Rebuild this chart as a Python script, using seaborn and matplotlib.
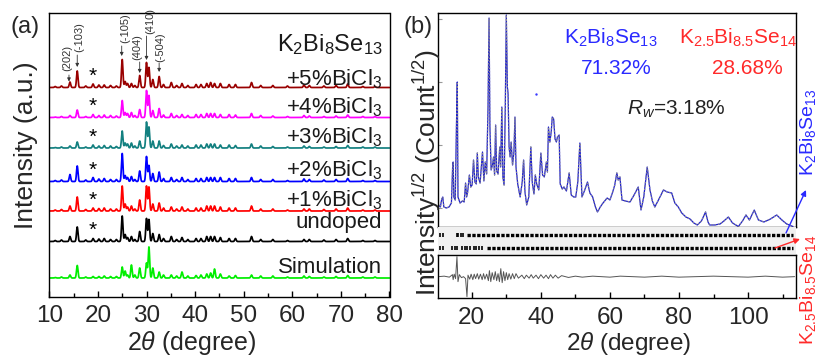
import numpy as np
import pandas as pd
import matplotlib
matplotlib.use("Agg")
import matplotlib.pyplot as plt
from matplotlib.ticker import MultipleLocator, FixedLocator, NullFormatter
import seaborn as sns

# ------------------------------------------------------------------
# Panel (a): XRD patterns (peak positions in 2theta, heights in a.u.)
# ------------------------------------------------------------------
peak_pos = [11.2, 12.5, 14.25, 15.75, 17.5, 19.0, 20.2, 21.3, 22.6, 23.8, 25.0, 25.6,
            26.1, 26.9, 27.6, 28.6, 30.0, 30.5, 31.3, 32.6, 33.5, 35.1, 36.2, 37.3,
            38.5, 40.2, 41.2, 42.4, 43.2, 44.0, 45.2, 47.0, 48.3, 51.6, 53.5, 56.0,
            59.0, 62.4, 63.5, 66.5, 69.0, 71.4, 74.5, 77.0]
h_5pct = [1, 1.5, 5.5, 16.5, 1.5, 3.5, 2.5, 2.5, 2, 1.5, 28, 6, 4, 4, 2, 12, 25, 20, 8, 11,
          3, 5, 2, 4, 2, 3, 3, 4, 5, 4, 4, 3, 3, 5, 2, 2, 1.5, 2.5, 2, 1.5, 2, 3.5, 1, 1]
h_4pct = [0.5, 1, 2, 7.5, 1, 3, 2, 2.5, 2, 1.5, 17, 5, 4, 5, 2, 8, 27, 22, 7, 9,
          2.5, 4, 2, 3, 2, 3, 3, 4, 4, 4, 3, 3, 2.5, 4, 2, 1.5, 1, 2, 1.5, 1, 1.5, 2.5, 1, 1]
h_3pct = [0.5, 1, 2, 6, 1, 3, 2, 2.5, 2, 1.5, 17, 5, 4, 5, 2, 7, 26, 21, 7, 7,
          2.5, 4, 2, 3, 2, 3, 3, 4, 4, 4, 3, 3, 2.5, 4, 2, 1.5, 1, 2, 1.5, 1, 1.5, 2.5, 1, 1]
h_2pct = [1, 1.5, 7, 15.5, 1.5, 4, 2.5, 3, 2, 2, 28, 6, 4, 5, 2, 10.5, 25, 16, 8, 9.5,
          3, 4, 2, 4, 2, 3, 3, 4, 4, 4, 4, 3, 3, 4, 2, 2, 1, 2.5, 2, 1.5, 2, 3, 1, 1]
h_1pct = [1, 1.5, 5, 14, 1.5, 3, 2.5, 3, 2, 2, 25, 7, 4, 5, 2, 11, 25, 24, 7, 8,
          3, 4, 2, 4, 2, 3, 3, 5, 5, 5, 4, 3, 3, 5, 2, 2, 1, 2, 2, 1.5, 2, 3, 1, 1]
h_undoped = [1, 1.5, 5, 14.5, 1.5, 3, 2.5, 3, 2, 2, 25.5, 7, 4, 5, 2, 10, 23, 22, 8, 7,
             3, 5, 2, 4, 2, 3, 3, 5, 5, 5, 4, 3, 3, 5, 2, 2, 1, 2, 2, 1.5, 2, 3, 1, 1]
h_sim = [0.5, 1, 3, 12.5, 1, 1.5, 1.5, 2, 1.5, 1.5, 11, 7, 3, 13, 3, 10, 15, 31, 10, 6,
         3, 3, 2, 6, 2, 2.5, 3, 4, 5, 9, 4, 2, 2.5, 3, 2, 2, 1, 2, 1.5, 1, 1.5, 2.5, 1, 1]

sample_labels = ["+5%BiCl$_3$", "+4%BiCl$_3$", "+3%BiCl$_3$", "+2%BiCl$_3$",
                 "+1%BiCl$_3$", "undoped", "Simulation"]
sample_heights = [h_5pct, h_4pct, h_3pct, h_2pct, h_1pct, h_undoped, h_sim]
sample_offsets = [209.5, 179.5, 149, 115.5, 86, 55.5, 19]
sample_colors = ["#990000", "#ff00ff", "#138080", "#0000ff", "#ff0000", "#000000", "#00ee00"]
label_y = [212, 183.5, 153.5, 120.5, 90.5, 69, 23.7]

hkl_labels = ["(202)", "(-103)", "(-105)", "(404)", "(410)", "(-504)"]
hkl_text_xy = [(13.7, 239), (16.1, 259.5), (25.55, 269), (28.0, 250), (30.8, 275.5), (32.9, 249.5)]
hkl_arrow_x = [14.05, 15.75, 24.9, 28.6, 30.0, 32.6]
hkl_arrow_tail = [222, 242, 251, 235, 261, 234]
hkl_arrow_head = [215.5, 230, 241, 224, 237, 225]

# ------------------------------------------------------------------
# Panel (b): Rietveld refinement (2theta, sqrt intensity in a.u.)
# ------------------------------------------------------------------
obs_tt = [10.4, 10.9, 11.3, 11.6, 11.9, 12.6, 13.4, 14.1, 14.45, 14.6, 14.8, 15.2, 15.55, 15.8,
          16.0, 16.6, 17.3, 17.8, 18.2, 18.5, 18.8, 19.3, 19.7, 20.1, 20.5, 20.9, 21.3, 21.6,
          21.9, 22.4, 23.1, 23.5, 23.9, 24.3, 24.7, 25.0, 25.25, 25.6, 26.0, 26.3, 26.6, 26.9,
          27.2, 27.6, 28.1, 28.35, 28.7, 29.0, 29.35, 29.7, 30.0, 30.3, 30.5, 30.8, 31.1, 31.4,
          31.8, 32.2, 32.5, 32.8, 33.3, 34.0, 34.6, 35.0, 35.4, 35.9, 36.5, 37.1, 37.5, 38.0,
          38.4, 38.8, 39.4, 40.0, 40.5, 41.0, 41.6, 41.9, 42.2, 42.6, 43.0, 43.3, 43.7, 44.1,
          44.5, 44.8, 45.3, 45.6, 46.2, 46.7, 47.4, 48.2, 48.8, 49.5, 50.1, 50.7, 51.3, 51.9,
          52.6, 53.5, 54.2, 55.0, 55.8, 56.4, 57.2, 58.0, 59.2, 60.0, 60.8, 61.4, 62.0, 62.4,
          62.9, 63.5, 64.5, 65.8, 67.0, 68.2, 69.0, 69.8, 70.8, 71.6, 72.3, 73.0, 74.2, 75.5,
          76.6, 77.9, 78.8, 79.8, 80.8, 82.0, 83.2, 84.3, 85.3, 86.5, 87.7, 88.4, 88.9, 90.3,
          91.9, 93.0, 94.3, 95.5, 97.2, 98.4, 99.4, 100.4, 101.8, 103.0, 104.6, 106.5, 108.3,
          109.8, 111.2, 113.0]
obs_int = [22, 20, 28, 30, 20, 19, 20, 24, 60, 65, 30, 27, 100, 145,
           30, 24, 26, 25, 44, 30, 35, 52, 40, 42, 67, 45, 43, 74,
           50, 44, 75, 46, 65, 53, 120, 209, 100, 57, 62, 70, 52, 102,
           56, 53, 80, 60, 120, 50, 42, 120, 212, 140, 134, 80, 70, 85,
           62, 75, 110, 60, 43, 30, 45, 67, 35, 22, 30, 80, 45, 33,
           52, 43, 37, 74, 52, 50, 65, 55, 100, 85, 95, 110, 108, 88,
           85, 90, 92, 43, 38, 40, 36, 54, 32, 30, 30, 45, 84, 30,
           36, 45, 34, 30, 20, 15, 20, 24, 29, 27, 35, 42, 54, 47,
           50, 27, 26, 25, 32, 40, 17, 30, 60, 37, 26, 20, 28, 37,
           35, 34, 24, 20, 14, 10, 8, 4, 2, 6, 15, 5, 2, 2,
           3, 6, 10, 4, 0.5, 6, 12, 7, 17, 7, 5, 8, 12,
           7, 3, 0.5]
stray_tt = [38.5]
stray_int = [133]

diff_tt = [10.4, 12.0, 13.5, 14.4, 14.6, 14.9, 15.3, 15.7, 16.0, 16.4, 17.0, 17.6, 18.2, 18.6,
           18.9, 19.4, 19.8, 20.3, 20.7, 21.1, 21.6, 22.0, 22.5, 23.0, 23.4, 23.8, 24.3, 24.8,
           25.1, 25.5, 25.9, 26.4, 26.8, 27.2, 27.6, 28.0, 28.4, 28.8, 29.2, 29.6, 30.0, 30.4,
           30.8, 31.3, 31.8, 32.3, 32.8, 33.5, 34.5, 35.2, 35.8, 36.6, 37.2, 37.8, 38.6, 39.3,
           40.0, 40.8, 41.5, 42.2, 42.8, 43.5, 44.2, 45.0, 46.0, 48.0, 50.0, 52.0, 55.0, 60.0,
           63.0, 70.0, 75.0, 80.0, 90.0, 100.0, 105.0, 110.0, 113.5]
diff_int = [0, 0.5, -0.5, 2, -3, 2.5, -2, 20, -5, 2, -1, 0, -2, -20,
            1.5, -2.5, 2.5, -3, 2.5, -2, 3, -2.5, 2.5, -3, 3, -2.5, 2.5, -4,
            6, -5, 4, -3, 5, -4, 3, -5, 8, -6, 5, -4, 4, -3,
            3, -2.5, 3, -2, 3, -1.5, 1.5, -2, 1.5, -1.5, 2, -1.5, 1.5, -2,
            2, -1.5, 1.5, -2, 2, -1.5, 1.5, -1.5, 1, -0.8, 0.5, -0.5, 0.5, -0.5,
            0.5, -0.5, 0.5, -0.5, 0.5, -0.5, 0.5, -0.5, 0]

bragg1_sparse = [10.8, 11.6, 15.7, 16.1, 16.8, 17.4]
bragg1_dense = [18.6, 113.1]
bragg2_sparse = [10.8, 11.7, 14.2, 15.0, 15.7, 17.1, 17.9, 18.6, 19.5, 20.5, 21.3, 22.2, 23.0]
bragg2_dense = [24.3, 113.1]

# ------------------------------------------------------------------
sns.set_theme(style="white")
plt.rcParams["font.family"] = ["Liberation Sans", "DejaVu Sans"]
plt.rcParams["mathtext.fontset"] = "custom"
plt.rcParams["mathtext.rm"] = "Liberation Sans"
plt.rcParams["mathtext.it"] = "Liberation Sans:italic"
plt.rcParams["mathtext.bf"] = "Liberation Sans:bold"

W, H = 818, 359
fig = plt.figure(figsize=(W / 100, H / 100), dpi=100)


def px_axes(l, t, r, b):
    return fig.add_axes([l / W, 1 - b / H, (r - l) / W, (b - t) / H])


# ---------------- Panel (a) ----------------
axA = px_axes(49.3, 13.3, 389.5, 297)
grid = np.linspace(10, 80, 4000)
frames = []
pk = np.array(peak_pos)
for name, hs, off in zip(sample_labels, sample_heights, sample_offsets):
    prof = off + np.sum(np.array(hs)[:, None] *
                        np.exp(-0.5 * ((grid[None, :] - pk[:, None]) / 0.15) ** 2), axis=0)
    frames.append(pd.DataFrame({"tt": grid, "I": prof, "sample": name}))
dfA = pd.concat(frames, ignore_index=True)
sns.lineplot(data=dfA, x="tt", y="I", hue="sample", hue_order=sample_labels,
             palette=dict(zip(sample_labels, sample_colors)), estimator=None,
             legend=False, lw=1.25, ax=axA)
axA.set_xlim(10, 80)
axA.set_ylim(0, 283.7)
axA.set_xlabel("")
axA.set_ylabel("")
axA.set_yticks([])
axA.xaxis.set_major_locator(MultipleLocator(10))
axA.xaxis.set_minor_locator(MultipleLocator(5))
axA.tick_params(axis="x", which="both", direction="in", bottom=True, top=False,
                width=1.0, color="black", labelsize=17.5, pad=6)
axA.tick_params(axis="x", which="major", length=4.5)
axA.tick_params(axis="x", which="minor", length=3)
for s in axA.spines.values():
    s.set_color("black")
    s.set_linewidth(1.0)

for lab, ly in zip(sample_labels, label_y):
    axA.text(78.5, ly, lab, ha="right", va="baseline", fontsize=16, color="#1a1a1a")
axA.text(78.5, 245.5, "K$_2$Bi$_8$Se$_{13}$", ha="right", va="baseline", fontsize=17,
         color="#1a1a1a")
for off in sample_offsets[:6]:
    axA.text(19.0, off + 11, "*", ha="center", va="center", fontsize=15, color="black")
for lab, (tx, ty), ax_x, t0, t1 in zip(hkl_labels, hkl_text_xy, hkl_arrow_x,
                                         hkl_arrow_tail, hkl_arrow_head):
    axA.text(tx, ty, lab, rotation=90, ha="center", va="center", fontsize=8, color="#333333")
    axA.annotate("", xy=(ax_x, t1), xytext=(ax_x, t0),
                 arrowprops=dict(arrowstyle="-|>", color="#333333", lw=0.6,
                                 mutation_scale=5, shrinkA=0, shrinkB=0))

# ---------------- Panel (b) ----------------
xl = (10.3, 113.8)
axB = px_axes(438.3, 13.3, 795.7, 227)
dfB = pd.DataFrame({"tt": obs_tt, "I": obs_int})
sns.lineplot(data=dfB, x="tt", y="I", color="#1f1fd0", lw=0.9, estimator=None, ax=axB)
sns.lineplot(data=dfB, x="tt", y="I", color="#8a8a8a", lw=0.9, ls=":", estimator=None, ax=axB)
sns.scatterplot(x=stray_tt, y=stray_int, color="#3a3aff", s=3, linewidth=0, ax=axB)
axB.set_xlim(*xl)
axB.set_ylim(0, 213.7)
axB.set_xlabel("")
axB.set_ylabel("")
axB.set_xticks([])
axB.yaxis.set_major_locator(FixedLocator([19, 82, 145, 208]))
axB.yaxis.set_major_formatter(NullFormatter())
axB.tick_params(axis="y", direction="in", left=True, length=3, width=0.8, color="#999999")
for s in axB.spines.values():
    s.set_color("black")
    s.set_linewidth(1.0)

axBand = px_axes(438.3, 227, 795.7, 255)
axBand.set_facecolor("#f0f0f0")
for s in axBand.spines.values():
    s.set_visible(False)
axBand.set_xlim(*xl)
axBand.set_ylim(0, 28)
axBand.set_xticks([])
axBand.set_yticks([])
sns.scatterplot(x=bragg1_sparse, y=[20] * len(bragg1_sparse), marker="|", s=12,
                color="black", linewidth=1.2, ax=axBand)
sns.scatterplot(x=bragg2_sparse, y=[7] * len(bragg2_sparse), marker="|", s=12,
                color="black", linewidth=1.2, ax=axBand)
sns.lineplot(x=bragg1_dense, y=[20, 20], color="black", lw=2.4, ls=(0, (1.0, 0.45)), ax=axBand)
sns.lineplot(x=bragg2_dense, y=[7, 7], color="black", lw=2.4, ls=(0, (1.0, 0.45)), ax=axBand)

axD = px_axes(438.3, 255, 795.7, 298.3)
sns.lineplot(x=diff_tt, y=diff_int, color="#555555", lw=0.7, estimator=None, ax=axD)
axD.set_xlim(*xl)
axD.set_ylim(-21.65, 21.65)
axD.set_yticks([])
axD.xaxis.set_major_locator(MultipleLocator(20))
axD.xaxis.set_minor_locator(MultipleLocator(10))
axD.tick_params(axis="x", which="both", direction="in", bottom=True, top=False,
                width=1.0, color="black", labelsize=17.5, pad=6)
axD.tick_params(axis="x", which="major", length=4.5)
axD.tick_params(axis="x", which="minor", length=3)
for s in axD.spines.values():
    s.set_color("black")
    s.set_linewidth(1.0)

axB.text(0.483, 0.885, "K$_2$Bi$_8$Se$_{13}$", transform=axB.transAxes, ha="center",
         va="center", fontsize=15, color="#2a2aff")
axB.text(0.84, 0.885, "K$_{2.5}$Bi$_{8.5}$Se$_{14}$", transform=axB.transAxes, ha="center",
         va="center", fontsize=15, color="#ff2a2a")
axB.text(0.497, 0.74, "71.32%", transform=axB.transAxes, ha="center", va="center",
         fontsize=15, color="#2a2aff")
axB.text(0.864, 0.74, "28.68%", transform=axB.transAxes, ha="center", va="center",
         fontsize=15, color="#ff2a2a")
axB.text(0.666, 0.55, "$R_w$=3.18%", transform=axB.transAxes, ha="center", va="center",
         fontsize=15, color="#222222")

# ---------------- Figure-level text ----------------
fig.text(25 / W, 1 - 27 / H, "(a)", ha="center", va="center", fontsize=17)
fig.text(418 / W, 1 - 27 / H, "(b)", ha="center", va="center", fontsize=17)
fig.text(26 / W, 1 - 145 / H, "Intensity (a.u.)", rotation=90, ha="center", va="center",
         fontsize=19)
fig.text(427 / W, 1 - 172 / H, "Intensity$^{1/2}$ (Count$^{1/2}$)", rotation=90,
         ha="center", va="center", fontsize=19)
fig.text(192 / W, 1 - 350 / H, "2$\\it{\\theta}$ (degree)", ha="center", va="baseline",
         fontsize=18)
fig.text(629 / W, 1 - 350 / H, "2$\\it{\\theta}$ (degree)", ha="center", va="baseline",
         fontsize=17.5)
fig.text(808 / W, 1 - 132 / H, "K$_2$Bi$_8$Se$_{13}$", rotation=90, ha="center", va="center",
         fontsize=14, color="#2a2aff")
fig.text(808 / W, 1 - 290 / H, "K$_{2.5}$Bi$_{8.5}$Se$_{14}$", rotation=90, ha="center",
         va="center", fontsize=14, color="#ff2a2a")
axD.annotate("", xy=(806, H - 190), xytext=(786, H - 233), xycoords="figure pixels",
             textcoords="figure pixels", annotation_clip=False,
             arrowprops=dict(arrowstyle="-|>", color="#2a2aff", lw=1.0, mutation_scale=8,
                             shrinkA=0, shrinkB=0))
axD.annotate("", xy=(800, H - 239), xytext=(775, H - 248), xycoords="figure pixels",
             textcoords="figure pixels", annotation_clip=False,
             arrowprops=dict(arrowstyle="-|>", color="#ff2a2a", lw=1.0, mutation_scale=8,
                             shrinkA=0, shrinkB=0))

fig.savefig("out.png", dpi=100)
